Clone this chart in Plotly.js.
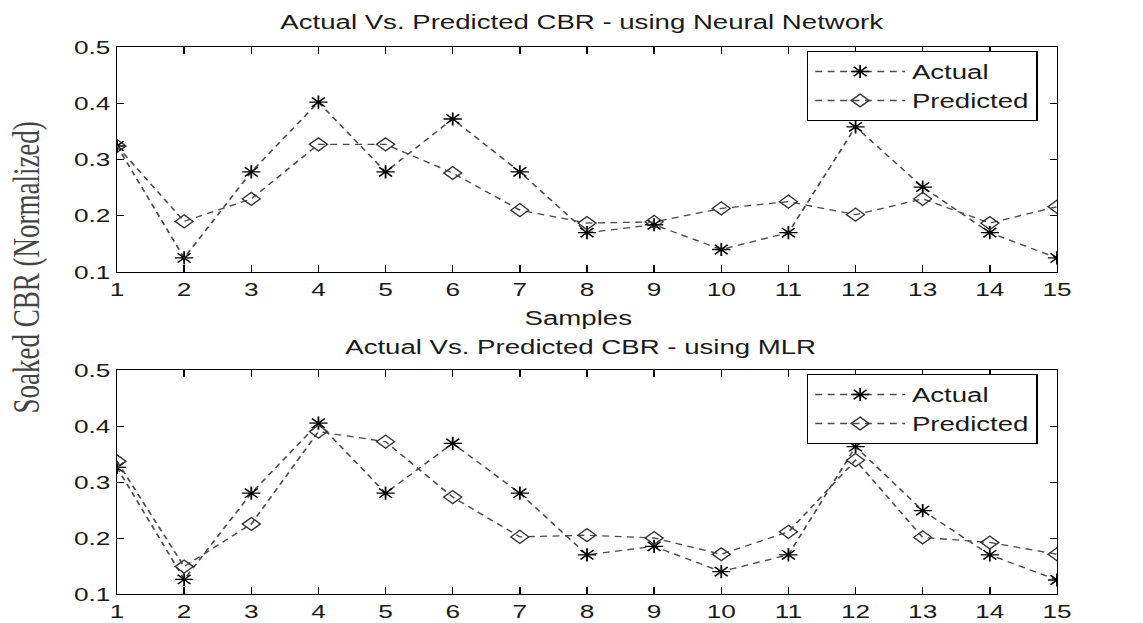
<!DOCTYPE html>
<html>
<head>
<meta charset="utf-8">
<script src="https://cdn.plot.ly/plotly-3.0.1.min.js"></script>
<style>
  html, body { margin: 0; padding: 0; background: #fff; overflow: hidden; }
  #wrap { width: 1143px; height: 623px; overflow: hidden; }
  #chart { width: 828px; height: 623px; transform: scaleX(1.3804); transform-origin: 0 0; }
</style>
</head>
<body>
<div id="wrap"><div id="chart"></div></div>
<script>
// ---- data ----
const samples = [1, 2, 3, 4, 5, 6, 7, 8, 9, 10, 11, 12, 13, 14, 15];
const nnActual    = [0.324, 0.125, 0.278, 0.402, 0.278, 0.372, 0.278, 0.170, 0.184, 0.140, 0.170, 0.358, 0.251, 0.170, 0.125];
const nnPredicted = [0.324, 0.190, 0.230, 0.327, 0.327, 0.276, 0.210, 0.187, 0.189, 0.213, 0.225, 0.202, 0.230, 0.187, 0.216];
const mlrActual    = [0.326, 0.126, 0.280, 0.405, 0.280, 0.369, 0.280, 0.170, 0.185, 0.140, 0.170, 0.363, 0.249, 0.170, 0.125];
const mlrPredicted = [0.337, 0.149, 0.225, 0.390, 0.372, 0.273, 0.202, 0.205, 0.200, 0.171, 0.211, 0.339, 0.201, 0.192, 0.171];
const seriesNames = ["Actual", "Predicted"];
const topTitle = "Actual Vs. Predicted CBR - using Neural Network";
const bottomTitle = "Actual Vs. Predicted CBR - using MLR";
const xTitle = "Samples";
const yTitle = "Soaked CBR (Normalized)";
const yTicks = [0.1, 0.2, 0.3, 0.4, 0.5];

// ---- styles ----
const sansFont = "Liberation Sans, Arial, sans-serif";
const lineDash = "5px,4px";
const actualStyle = {
  mode: "lines+markers",
  line: { color: "#4a4a4a", width: 1.3, dash: lineDash },
  marker: { symbol: "asterisk-open", size: 11, color: "#000", line: { color: "#000", width: 1.3 } }
};
const predStyle = {
  mode: "lines+markers",
  line: { color: "#4a4a4a", width: 1.3, dash: lineDash },
  marker: { symbol: "diamond-open", size: 10, color: "#333", line: { color: "#333", width: 1.2 } }
};

function tr(x, y, name, style, xa, ya, legend) {
  return Object.assign({ x: x, y: y, name: name, xaxis: xa, yaxis: ya, legend: legend,
    hoverinfo: "skip" }, JSON.parse(JSON.stringify(style)));
}

const data = [
  tr(samples, nnActual, seriesNames[0], actualStyle, "x", "y", "legend"),
  tr(samples, nnPredicted, seriesNames[1], predStyle, "x", "y", "legend"),
  tr(samples, mlrActual, seriesNames[0], actualStyle, "x2", "y2", "legend2"),
  tr(samples, mlrPredicted, seriesNames[1], predStyle, "x2", "y2", "legend2")
];

const xDomain = [117 / 1143, 1057 / 1143];
function xAxis(anchor) {
  return {
    domain: xDomain, anchor: anchor, range: [1, 15],
    tickmode: "array", tickvals: samples, ticktext: samples.map(String),
    ticks: "inside", ticklen: 7, tickwidth: 1, tickcolor: "#000",
    showline: true, linecolor: "#000", linewidth: 1, mirror: "ticks",
    showgrid: false, zeroline: false,
    tickfont: { family: sansFont, size: 19, color: "#1a1a1a" }
  };
}
function yAxis(anchor, dom) {
  return {
    domain: dom, anchor: anchor, range: [0.1, 0.5],
    tickmode: "array", tickvals: yTicks, ticktext: yTicks.map(v => v.toFixed(1)),
    ticks: "inside", ticklen: 5, tickwidth: 1, tickcolor: "#000",
    showline: true, linecolor: "#000", linewidth: 1, mirror: "ticks",
    showgrid: false, zeroline: false,
    tickfont: { family: sansFont, size: 19, color: "#1a1a1a" }
  };
}

function legendBox(yTop) {
  return {
    x: 807 / 1143, y: yTop, xanchor: "left", yanchor: "top",
    bgcolor: "#fff", bordercolor: "#000", borderwidth: 1,
    font: { family: sansFont, size: 20, color: "#1a1a1a" },
    itemwidth: 65, tracegroupgap: 0
  };
}

const layout = {
  width: 828, height: 623,
  margin: { l: 0, r: 0, t: 0, b: 0 },
  paper_bgcolor: "#fff", plot_bgcolor: "#fff",
  xaxis: xAxis("y"),
  yaxis: yAxis("x", [1 - 272 / 623, 1 - 47 / 623]),
  xaxis2: xAxis("y2"),
  yaxis2: yAxis("x2", [1 - 594 / 623, 1 - 370 / 623]),
  legend: legendBox(1 - 51 / 623),
  legend2: legendBox(1 - 374 / 623),
  showlegend: true,
  annotations: [
    { text: topTitle, xref: "paper", yref: "paper", x: 582 / 1143, y: 1 - 22 / 623,
      xanchor: "center", yanchor: "middle", showarrow: false,
      font: { family: sansFont, size: 20, color: "#1a1a1a" } },
    { text: xTitle, xref: "paper", yref: "paper", x: 578 / 1143, y: 1 - 318 / 623,
      xanchor: "center", yanchor: "middle", showarrow: false,
      font: { family: sansFont, size: 20, color: "#1a1a1a" } },
    { text: bottomTitle, xref: "paper", yref: "paper", x: 581 / 1143, y: 1 - 347 / 623,
      xanchor: "center", yanchor: "middle", showarrow: false,
      font: { family: sansFont, size: 20, color: "#1a1a1a" } },
    { text: yTitle, xref: "paper", yref: "paper", x: 27 / 1143, y: 1 - 268 / 623,
      xanchor: "center", yanchor: "middle", showarrow: false, textangle: -90,
      font: { family: "Liberation Serif, Times New Roman, serif", size: 27, color: "#444" } }
  ]
};

Plotly.newPlot("chart", data, layout, { displayModeBar: false, staticPlot: true });
</script>
</body>
</html>
